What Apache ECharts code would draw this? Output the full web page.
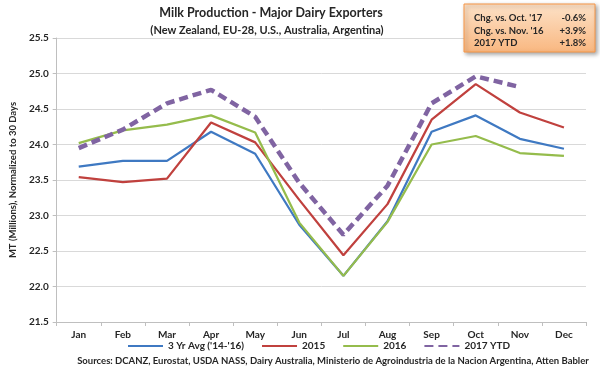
<!DOCTYPE html>
<html>
<head>
<meta charset="utf-8">
<script src="https://cdn.jsdelivr.net/npm/echarts@6/dist/echarts.min.js"></script>
<style>html,body{margin:0;padding:0;background:#fff}#c{width:600px;height:370px}</style>
</head>
<body>
<div id="c"></div>
<script>
const months = ['Jan','Feb','Mar','Apr','May','Jun','Jul','Aug','Sep','Oct','Nov','Dec'];
const avg3yr = [23.69, 23.77, 23.77, 24.18, 23.87, 22.87, 22.15, 22.92, 24.18, 24.41, 24.08, 23.94];
const y2015 = [23.54, 23.47, 23.52, 24.31, 24.03, 23.22, 22.44, 23.16, 24.35, 24.85, 24.45, 24.24];
const y2016 = [24.02, 24.20, 24.28, 24.41, 24.17, 22.90, 22.15, 22.91, 24.00, 24.12, 23.88, 23.84];
const ytd2017 = [23.95, 24.21, 24.58, 24.77, 24.39, 23.46, 22.73, 23.42, 24.58, 24.96, 24.81];
const seriesNames = ["3 Yr Avg ('14-'16)", '2015', '2016', '2017 YTD'];
const boxLabels = ["Chg. vs. Oct. '17", "Chg. vs. Nov. '16", '2017 YTD'];
const boxValues = ['-0.6%', '+3.9%', '+1.8%'];
const titleText = 'Milk Production - Major Dairy Exporters';
const subtitleText = '(New Zealand, EU-28, U.S., Australia, Argentina)';
const sourcesText = 'Sources: DCANZ, Eurostat, USDA NASS, Dairy Australia, Ministerio de Agroindustria de la Nacion Argentina, Atten Babler';
const yAxisName = 'MT (Millions), Normalized to 30 Days';

const FONT = 'Lato, "Open Sans", sans-serif';
const TXT = '#262626';
const chart = echarts.init(document.getElementById('c'), null, {renderer: 'canvas'});

const boxGraphics = [];
boxLabels.forEach((t, i) => {
  boxGraphics.push({type: 'text', x: 474, y: 18 + i * 12.7, style: {text: t, font: 'bold 9.5px ' + FONT, fill: TXT, verticalAlign: 'middle', align: 'left'}, z: 12});
  boxGraphics.push({type: 'text', x: 586, y: 18 + i * 12.7, style: {text: boxValues[i], font: 'bold 9.5px ' + FONT, fill: TXT, verticalAlign: 'middle', align: 'right'}, z: 12});
});

const mk = (name, data, color, width, dash) => ({
  name, type: 'line', data, symbol: 'none', smooth: false,
  lineStyle: {color, width, type: dash ? [9, 5] : 'solid', cap: 'butt'},
  itemStyle: {color},
  emphasis: {disabled: true}
});

chart.setOption({
  animation: false,
  backgroundColor: '#fff',
  textStyle: {fontFamily: FONT},
  grid: {left: 47, right: 14, top: 38, bottom: 48, containLabel: false},
  legend: {
    show: true, padding: 0,
    data: seriesNames, left: 127, top: 341, itemWidth: 35, itemHeight: 12, itemGap: 17,
    itemStyle: {opacity: 0},
    textStyle: {fontFamily: FONT, fontWeight: 'bold', fontSize: 10, color: TXT}
  },
  xAxis: {
    type: 'category', data: months, boundaryGap: true,
    axisLine: {lineStyle: {color: '#bfbfbf', width: 1}},
    axisTick: {show: true, length: 4, lineStyle: {color: '#bfbfbf'}},
    axisLabel: {fontFamily: FONT, fontWeight: 'bold', fontSize: 10, color: TXT, margin: 8}
  },
  yAxis: {
    type: 'value', min: 21.5, max: 25.5, interval: 0.5,
    name: yAxisName, nameLocation: 'middle', nameRotate: 90, nameGap: 35,
    nameTextStyle: {fontFamily: FONT, fontWeight: 'bold', fontSize: 9.5, color: TXT},
    axisLine: {show: true, lineStyle: {color: '#bfbfbf'}},
    axisTick: {show: true, length: 4, lineStyle: {color: '#bfbfbf'}},
    axisLabel: {fontFamily: FONT, fontWeight: 'bold', fontSize: 10, color: TXT, margin: 8, formatter: v => v.toFixed(1)},
    splitLine: {lineStyle: {color: '#d9d9d9', width: 1}}
  },
  series: [
    mk(seriesNames[0], avg3yr, '#3f79c2', 2.25, false),
    mk(seriesNames[1], y2015, '#c0413e', 2.25, false),
    mk(seriesNames[2], y2016, '#95bc4c', 2.25, false),
    mk(seriesNames[3], ytd2017, '#8064a2', 4.5, true)
  ],
  graphic: [
    {type: 'text', x: 271, y: 13, style: {text: titleText, font: 'bold 12.5px ' + FONT, fill: TXT, align: 'center', verticalAlign: 'middle'}},
    {type: 'text', x: 267, y: 30, style: {text: subtitleText, font: 'bold 11px ' + FONT, fill: TXT, align: 'center', verticalAlign: 'middle'}},
    {type: 'text', x: 333, y: 361, style: {text: sourcesText, font: 'bold 9.5px ' + FONT, fill: TXT, align: 'center', verticalAlign: 'middle'}},
    {type: 'rect', shape: {x: 464, y: 4, width: 131, height: 48},
      style: {fill: new echarts.graphic.LinearGradient(0, 0, 0, 1, [{offset: 0, color: '#fde2c8'}, {offset: 1, color: '#f9b780'}]),
        stroke: '#f79646', lineWidth: 1, shadowBlur: 4, shadowOffsetX: 2, shadowOffsetY: 2, shadowColor: 'rgba(0,0,0,0.35)'}, z: 11},
    ...boxGraphics
  ]
});
</script>
</body>
</html>
